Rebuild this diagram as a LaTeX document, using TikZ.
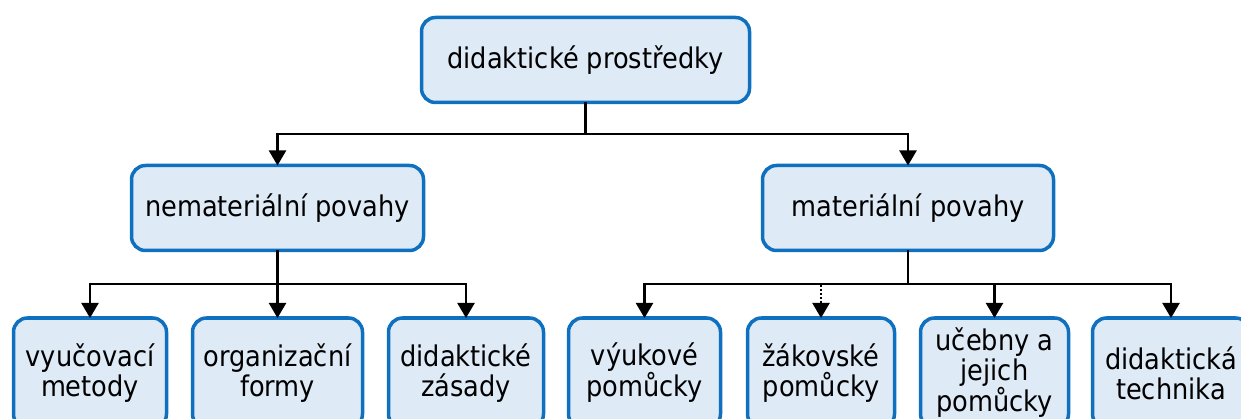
\documentclass[tikz,border=0pt]{standalone}
\usepackage{fontspec}
\setmainfont{DejaVu Sans}[FakeStretch=0.9]
\usetikzlibrary{arrows.meta}
\definecolor{boxline}{HTML}{1070C0}
\definecolor{boxfill}{HTML}{DEEAF6}
\tikzset{
  box/.style={draw=boxline, fill=boxfill, line width=3.5pt, rounded corners=14pt,
    inner sep=0pt, outer sep=0pt, align=center,
    font=\fontsize{28.5}{30}\selectfont},
  conn/.style={line width=2.2pt, draw=black},
  arr/.style={conn, -{Triangle[width=17pt,length=15pt]}},
  dotarr/.style={arr, dash pattern=on 2pt off 2pt}
}
\begin{document}
\begin{tikzpicture}[x=1pt,y=-1pt]
\useasboundingbox (0,0) rectangle (1241,419);
\begin{scope}
\clip (0,0) rectangle (1241,419);
% top level
\node[box, minimum width=328pt, minimum height=85pt] (top) at (585.5,60) {didaktické prostředky};
% second level
\node[box, minimum width=292pt, minimum height=85pt] (nem) at (277.5,208) {nemateriální povahy};
\node[box, minimum width=291pt, minimum height=85pt] (mat) at (908,208) {materiální povahy};
% third level
\node[box, minimum width=153pt, minimum height=110pt] (vm) at (90,373) {vyučovací\\metody};
\node[box, minimum width=170pt, minimum height=110pt] (of) at (277.5,373) {organizační\\formy};
\node[box, minimum width=155pt, minimum height=110pt] (dz) at (466,373) {didaktické\\zásady};
\node[box, minimum width=152pt, minimum height=110pt] (vp) at (644.5,373) {výukové\\pomůcky};
\node[box, minimum width=147pt, minimum height=110pt] (zp) at (821,373) {žákovské\\pomůcky};
\node[box, minimum width=148pt, minimum height=110pt] (uj) at (994.5,373) {učebny a\\jejich\\pomůcky};
\node[box, minimum width=157pt, minimum height=110pt] (dt) at (1171,373) {didaktická\\technika};
\end{scope}
% bus levels
\coordinate (b1) at (0,134);
\coordinate (b2) at (0,284);
% connectors
\draw[arr] (top.south) -- (top.south |- b1) -| (nem.north);
\draw[arr] (top.south) -- (top.south |- b1) -| (mat.north);
\draw[arr] (nem.south) -- (nem.south |- b2) -| (vm.north);
\draw[arr] (nem.south) -- (of.north);
\draw[arr] (nem.south) -- (nem.south |- b2) -| (dz.north);
\draw[arr] (mat.south) -- (mat.south |- b2) -| (vp.north);
\draw[dotarr] (mat.south |- b2) -| (zp.north);
\draw[arr] (mat.south) -- (mat.south |- b2) -| (uj.north);
\draw[arr] (mat.south) -- (mat.south |- b2) -| (dt.north);
\end{tikzpicture}
\end{document}
